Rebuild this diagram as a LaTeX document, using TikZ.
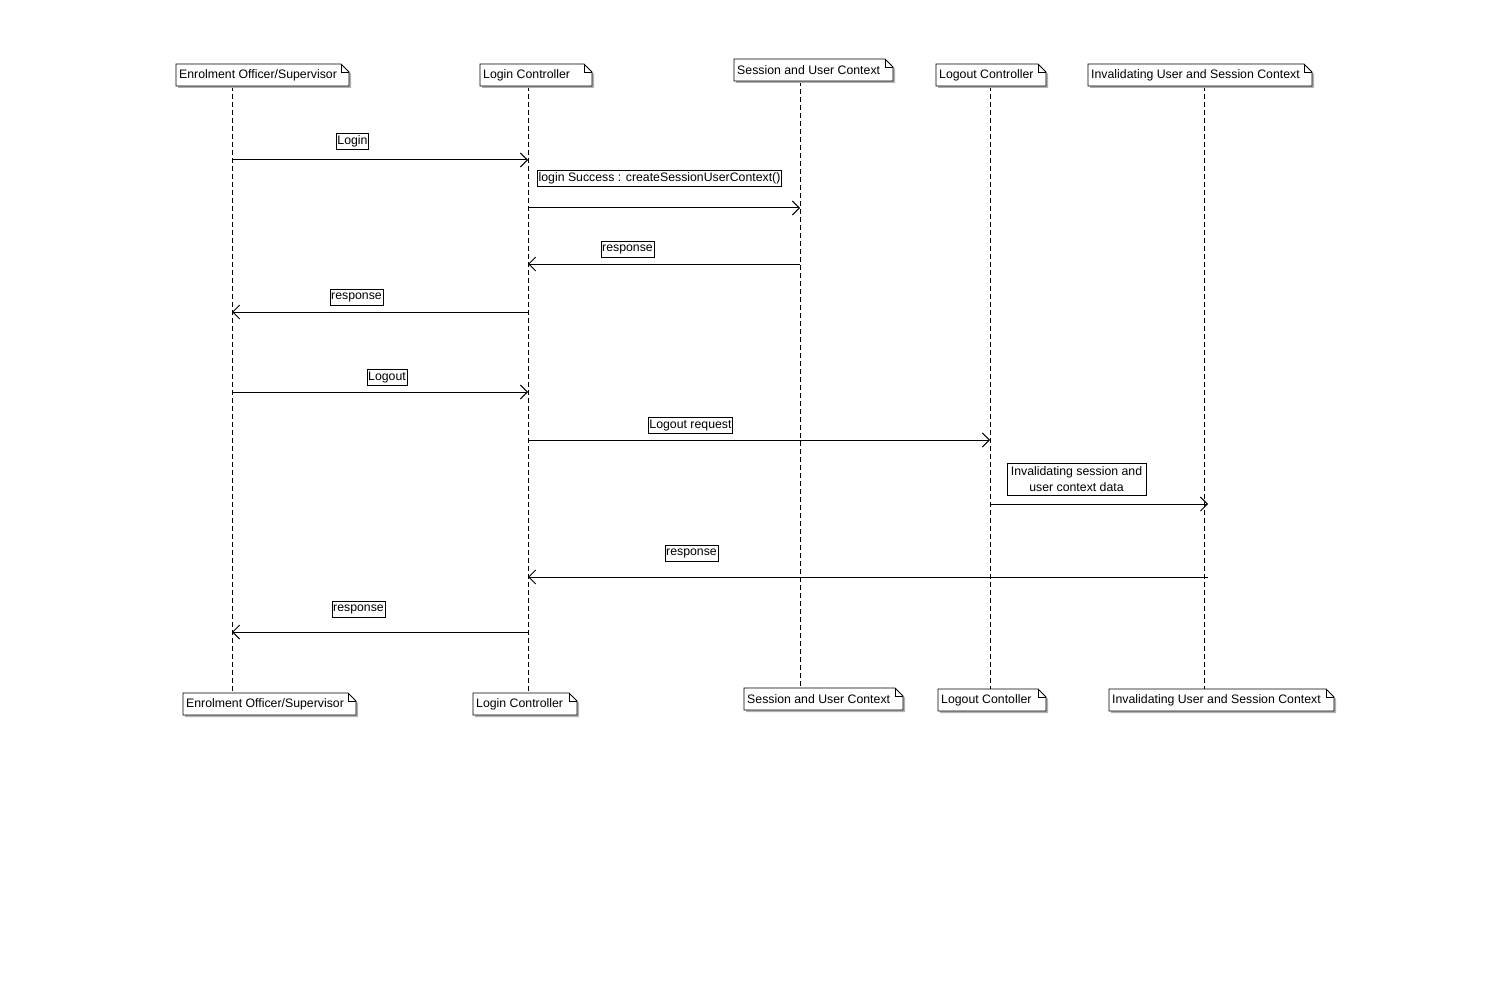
\documentclass[tikz,border=0pt]{standalone}
\usepackage{fontspec}
\setmainfont{Liberation Sans}
\usetikzlibrary{arrows.meta}
\tikzset{
  notetext/.style={inner sep=0pt, anchor=west, font=\fontsize{12.3}{14}\selectfont},
  msglabel/.style={draw=black, line width=0.8pt, fill=white, inner xsep=1.2pt, inner ysep=0pt, minimum height=16pt, font=\fontsize{12.3}{14}\selectfont},
  lifeline/.style={line width=1pt, dash pattern=on 5pt off 3pt},
  msg/.style={line width=1pt, -{Straight Barb[length=7pt,width=14pt,line width=0.9pt]}},
}
\newcommand\notebox[5]{%
  \fill[black!30] ({#2+2},{#3+2}) -- ({#2+#4-6},{#3+2}) -- ({#2+#4+2},{#3+10}) -- ({#2+#4+2},{#3+24}) -- ({#2+2},{#3+24}) -- cycle;
  \filldraw[fill=white, draw=black, line width=0.8pt] (#2,#3) -- ({#2+#4-8},#3) -- ({#2+#4},{#3+8}) -- ({#2+#4},{#3+22}) -- (#2,{#3+22}) -- cycle;
  \draw[line width=0.8pt] ({#2+#4-8},#3) -- ({#2+#4-8},{#3+8}) -- ({#2+#4},{#3+8});
  \node[notetext] (#1) at ({#2+3},{#3+11.5}) {#5};
}
\begin{document}
\begin{tikzpicture}[x=1pt,y=-1pt]
\useasboundingbox[fill=white] (0,0) rectangle (1511,1008);
% lifelines
\coordinate (eoT) at (232,86);  \coordinate (eoB) at (232,693);
\coordinate (lcT) at (528,86);  \coordinate (lcB) at (528,693);
\coordinate (suT) at (800,81);  \coordinate (suB) at (800,688);
\coordinate (loT) at (990,86);  \coordinate (loB) at (990,689);
\coordinate (ivT) at (1204,86); \coordinate (ivB) at (1204,689);
\draw[lifeline] (eoT) -- (eoB);
\draw[lifeline] (lcT) -- (lcB);
\draw[lifeline] (suT) -- (suB);
\draw[lifeline] (loT) -- (loB);
\draw[lifeline] (ivT) -- (ivB);
% header boxes
\notebox{eoTop}{176}{64}{173}{Enrolment Officer/Supervisor}
\notebox{lcTop}{480}{64}{112}{Login Controller}
\notebox{suTop}{734}{59}{159}{Session and User Context}
\notebox{loTop}{936}{64}{110}{Logout Controller}
\notebox{ivTop}{1088}{64}{224}{Invalidating User and Session Context}
% footer boxes
\notebox{eoBot}{183}{693}{173}{Enrolment Officer/Supervisor}
\notebox{lcBot}{473}{693}{104}{Login Controller}
\notebox{suBot}{744}{688}{159}{Session and User Context}
\notebox{loBot}{938}{689}{108}{Logout Contoller}
\notebox{ivBot}{1109}{689}{225}{Invalidating User and Session Context}
% message endpoints
\coordinate (m1a) at (232,160);  \coordinate (m1b) at (528,160);
\coordinate (m2a) at (528,208);  \coordinate (m2b) at (800,208);
\coordinate (m3a) at (800,264);  \coordinate (m3b) at (528,264);
\coordinate (m4a) at (528,312);  \coordinate (m4b) at (232,312);
\coordinate (m5a) at (232,392);  \coordinate (m5b) at (528,392);
\coordinate (m6a) at (528,440);  \coordinate (m6b) at (990,440);
\coordinate (m7a) at (990,504);  \coordinate (m7b) at (1208,504);
\coordinate (m8a) at (1208,577); \coordinate (m8b) at (528,577);
\coordinate (m9a) at (528,632);  \coordinate (m9b) at (232,632);
\draw[msg] (m1a) -- (m1b);
\draw[msg] (m2a) -- (m2b);
\draw[msg] (m3a) -- (m3b);
\draw[msg] (m4a) -- (m4b);
\draw[msg] (m5a) -- (m5b);
\draw[msg] (m6a) -- (m6b);
\draw[msg] (m7a) -- (m7b);
\draw[msg] (m8a) -- (m8b);
\draw[msg] (m9a) -- (m9b);
% labels
\node[msglabel] (l1) at (352.5,141.5) {Login};
\node[msglabel] (l2) at (659.5,178) {login Success : createSessionUserContext()};
\node[msglabel] (l3) at (627.5,249.5) {response};
\node[msglabel] (l4) at (356.5,297.5) {response};
\node[msglabel] (l5) at (387,377.5) {Logout};
\node[msglabel] (l6) at (690.5,425.5) {Logout request};
\node[msglabel, align=center, minimum width=139pt, minimum height=32pt, font=\fontsize{12.3}{16}\selectfont] (l7) at (1076.5,479.5) {Invalidating session and\\user context data};
\node[msglabel] (l8) at (691.5,553.5) {response};
\node[msglabel] (l9) at (358.5,609.5) {response};
\end{tikzpicture}
\end{document}
